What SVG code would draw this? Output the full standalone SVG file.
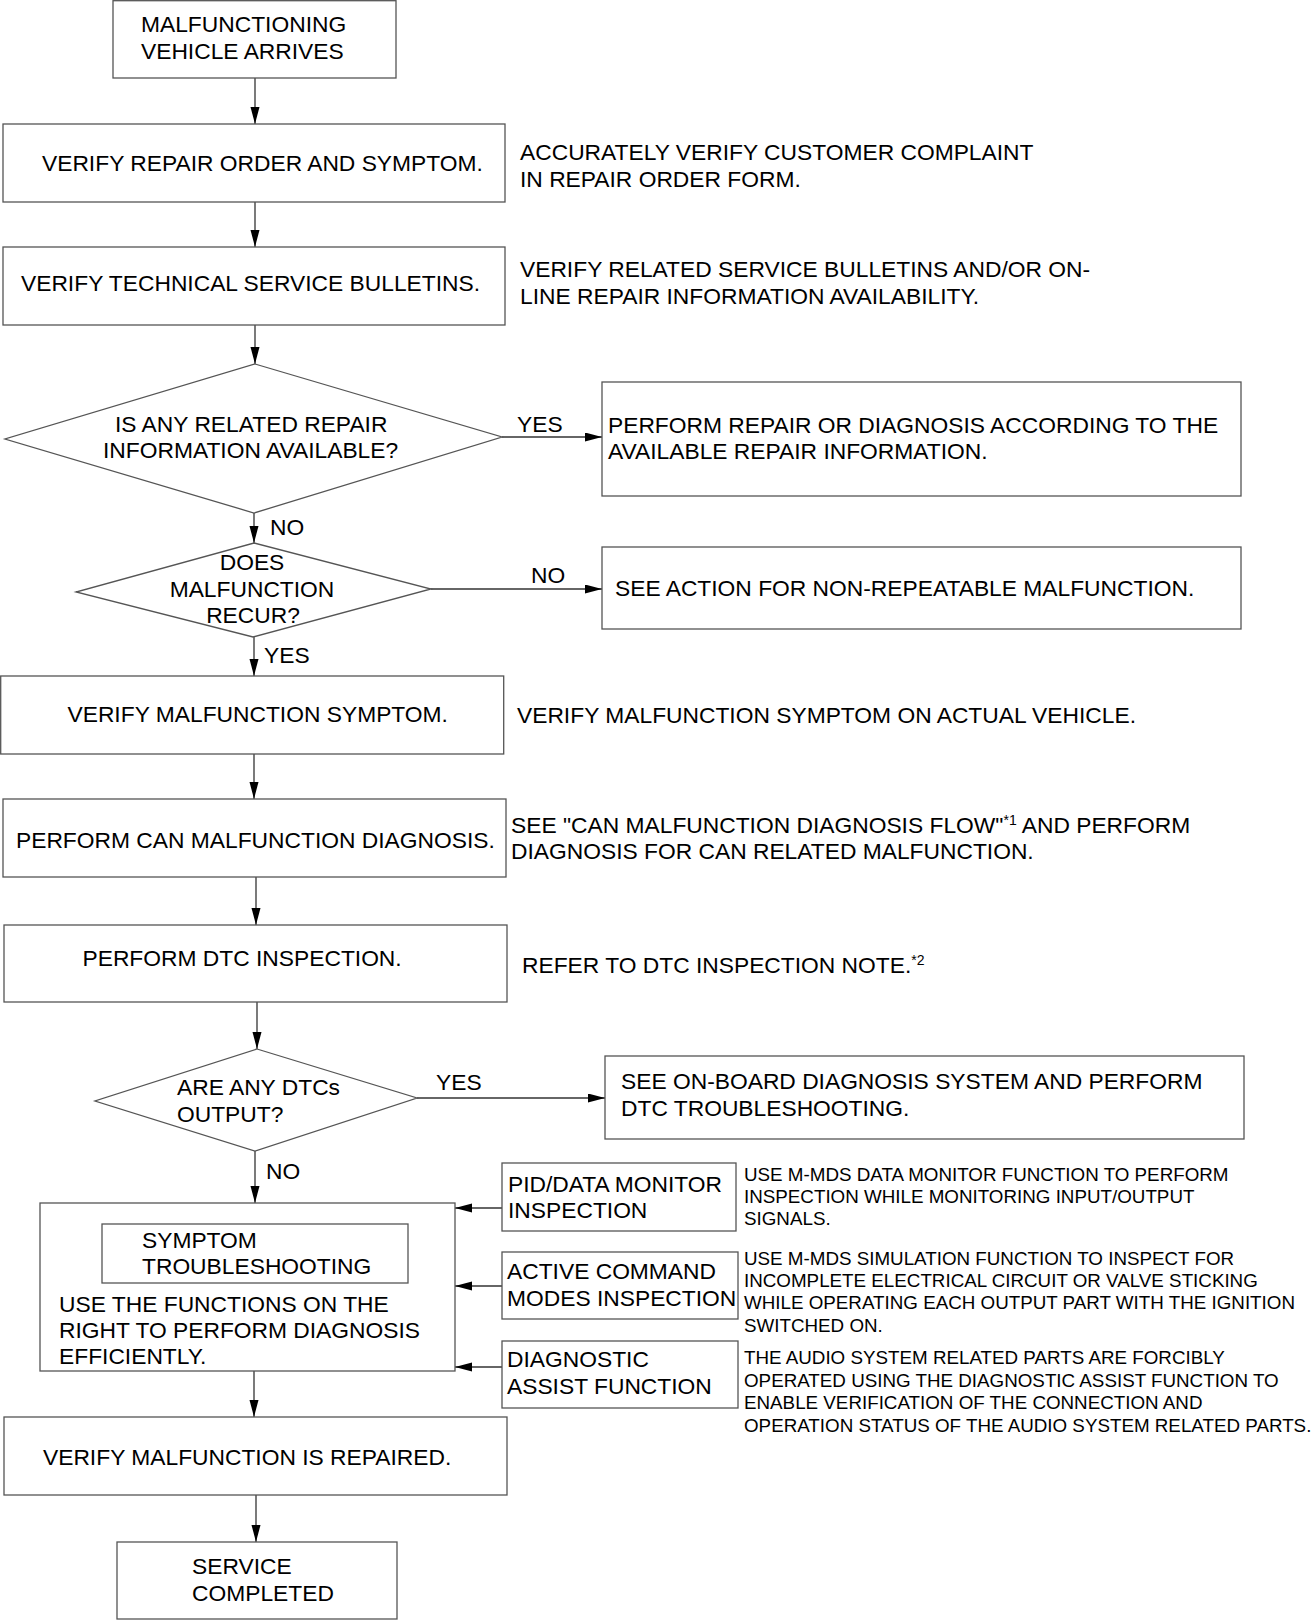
<svg xmlns="http://www.w3.org/2000/svg" width="1313" height="1620" viewBox="0 0 1313 1620">
<defs>
<style>
.box{fill:#fff;stroke:#555;stroke-width:1.3}
.ln{fill:none;stroke:#333;stroke-width:1.3;marker-end:url(#ah)}
text{font-family:"Liberation Sans",Arial,Helvetica,sans-serif;fill:#000}
.t{font-size:22.8px}
.s{font-size:18.8px}
.sup{font-size:14px}
</style>
<marker id="ah" markerUnits="userSpaceOnUse" markerWidth="18" markerHeight="10" refX="17" refY="4.5" orient="auto">
<path d="M0,0 L17,4.5 L0,9 z" fill="#000"/>
</marker>
</defs>
<rect width="1313" height="1620" fill="#fff"/>

<g id="connectors">
<line class="ln" x1="255" y1="78" x2="255" y2="124"/>
<line class="ln" x1="255" y1="202" x2="255" y2="247"/>
<line class="ln" x1="255" y1="325" x2="255" y2="364"/>
<line class="ln" x1="502" y1="437" x2="602" y2="437"/>
<line class="ln" x1="254" y1="513" x2="254" y2="543"/>
<line class="ln" x1="431" y1="589" x2="602" y2="589"/>
<line class="ln" x1="254" y1="637" x2="254" y2="676"/>
<line class="ln" x1="254" y1="754" x2="254" y2="799"/>
<line class="ln" x1="256" y1="877" x2="256" y2="925"/>
<line class="ln" x1="257" y1="1002" x2="257" y2="1049"/>
<line class="ln" x1="417" y1="1098" x2="605" y2="1098"/>
<line class="ln" x1="255" y1="1151" x2="255" y2="1203"/>
<line class="ln" x1="502" y1="1208" x2="455" y2="1208"/>
<line class="ln" x1="502" y1="1286" x2="455" y2="1286"/>
<line class="ln" x1="502" y1="1367" x2="455" y2="1367"/>
<line class="ln" x1="254" y1="1371" x2="254" y2="1417"/>
<line class="ln" x1="256" y1="1495" x2="256" y2="1542"/>
<text class="t" x="517" y="432">YES</text>
<text class="t" x="270" y="535">NO</text>
<text class="t" x="531" y="583">NO</text>
<text class="t" x="264" y="663">YES</text>
<text class="t" x="436" y="1090">YES</text>
<text class="t" x="266" y="1179">NO</text>
</g>

<g id="start">
<rect class="box" x="113" y="0.7" width="283" height="77.3"/>
<text class="t" x="141" y="32">MALFUNCTIONING</text>
<text class="t" x="141" y="59">VEHICLE ARRIVES</text>
</g>

<g id="verify-repair-order">
<rect class="box" x="3" y="124" width="502" height="78"/>
<text class="t" x="42" y="171">VERIFY REPAIR ORDER AND SYMPTOM.</text>
</g>
<g id="note-repair-order">
<text class="t" x="520" y="160">ACCURATELY VERIFY CUSTOMER COMPLAINT</text>
<text class="t" x="520" y="187">IN REPAIR ORDER FORM.</text>
</g>

<g id="verify-tsb">
<rect class="box" x="3" y="247" width="502" height="78"/>
<text class="t" x="21" y="291">VERIFY TECHNICAL SERVICE BULLETINS.</text>
</g>
<g id="note-tsb">
<text class="t" x="520" y="277">VERIFY RELATED SERVICE BULLETINS AND/OR ON-</text>
<text class="t" x="520" y="304">LINE REPAIR INFORMATION AVAILABILITY.</text>
</g>

<g id="decision-info">
<polygon class="box" points="255,364 502,437 254,513 5,439"/>
<text class="t" x="115" y="432">IS ANY RELATED REPAIR</text>
<text class="t" x="103" y="458">INFORMATION AVAILABLE?</text>
</g>

<g id="perform-repair">
<rect class="box" x="602" y="382" width="639" height="114"/>
<text class="t" x="608" y="433">PERFORM REPAIR OR DIAGNOSIS ACCORDING TO THE</text>
<text class="t" x="608" y="459">AVAILABLE REPAIR INFORMATION.</text>
</g>

<g id="decision-recur">
<polygon class="box" points="254,543 431,589 253,637 76,592"/>
<text class="t" x="252" y="570" text-anchor="middle">DOES</text>
<text class="t" x="252" y="597" text-anchor="middle">MALFUNCTION</text>
<text class="t" x="253" y="623" text-anchor="middle">RECUR?</text>
</g>

<g id="non-repeatable">
<rect class="box" x="602" y="547" width="639" height="82"/>
<text class="t" x="615" y="596">SEE ACTION FOR NON-REPEATABLE MALFUNCTION.</text>
</g>

<g id="verify-symptom">
<rect class="box" x="0.7" y="676" width="503" height="78"/>
<text class="t" x="67.5" y="722">VERIFY MALFUNCTION SYMPTOM.</text>
</g>
<g id="note-symptom">
<text class="t" x="517" y="723">VERIFY MALFUNCTION SYMPTOM ON ACTUAL VEHICLE.</text>
</g>

<g id="can-diagnosis">
<rect class="box" x="3" y="799" width="503" height="78"/>
<text class="t" x="16" y="848">PERFORM CAN MALFUNCTION DIAGNOSIS.</text>
</g>
<g id="note-can">
<text class="t" x="511" y="833">SEE "CAN MALFUNCTION DIAGNOSIS FLOW"<tspan class="sup" dy="-8">*1</tspan><tspan dy="8"> AND PERFORM</tspan></text>
<text class="t" x="511" y="859">DIAGNOSIS FOR CAN RELATED MALFUNCTION.</text>
</g>

<g id="dtc-inspection">
<rect class="box" x="4" y="925" width="503" height="77"/>
<text class="t" x="82.5" y="966">PERFORM DTC INSPECTION.</text>
</g>
<g id="note-dtc">
<text class="t" x="522" y="973">REFER TO DTC INSPECTION NOTE.<tspan class="sup" dy="-8">*2</tspan></text>
</g>

<g id="decision-dtc">
<polygon class="box" points="257,1049 417,1098 255,1151 95,1101"/>
<text class="t" x="177" y="1095">ARE ANY DTCs</text>
<text class="t" x="177" y="1122">OUTPUT?</text>
</g>

<g id="dtc-troubleshooting">
<rect class="box" x="605" y="1056" width="639" height="83"/>
<text class="t" x="621" y="1089">SEE ON-BOARD DIAGNOSIS SYSTEM AND PERFORM</text>
<text class="t" x="621" y="1116">DTC TROUBLESHOOTING.</text>
</g>

<g id="symptom-troubleshooting">
<rect class="box" x="40" y="1203" width="415" height="168"/>
<rect class="box" x="102" y="1224" width="306" height="59"/>
<text class="t" x="142" y="1248">SYMPTOM</text>
<text class="t" x="142" y="1274">TROUBLESHOOTING</text>
<text class="t" x="59" y="1312">USE THE FUNCTIONS ON THE</text>
<text class="t" x="59" y="1338">RIGHT TO PERFORM DIAGNOSIS</text>
<text class="t" x="59" y="1364">EFFICIENTLY.</text>
</g>

<g id="pid-monitor">
<rect class="box" x="502" y="1163" width="234" height="68"/>
<text class="t" x="508" y="1192">PID/DATA MONITOR</text>
<text class="t" x="508" y="1218">INSPECTION</text>
</g>
<g id="note-pid">
<text class="s" x="744" y="1181">USE M-MDS DATA MONITOR FUNCTION TO PERFORM</text>
<text class="s" x="744" y="1203">INSPECTION WHILE MONITORING INPUT/OUTPUT</text>
<text class="s" x="744" y="1225">SIGNALS.</text>
</g>

<g id="active-command">
<rect class="box" x="502" y="1252" width="236" height="67"/>
<text class="t" x="507" y="1279">ACTIVE COMMAND</text>
<text class="t" x="507" y="1306">MODES INSPECTION</text>
</g>
<g id="note-active">
<text class="s" x="744" y="1265">USE M-MDS SIMULATION FUNCTION TO INSPECT FOR</text>
<text class="s" x="744" y="1287">INCOMPLETE ELECTRICAL CIRCUIT OR VALVE STICKING</text>
<text class="s" x="744" y="1309">WHILE OPERATING EACH OUTPUT PART WITH THE IGNITION</text>
<text class="s" x="744" y="1332">SWITCHED ON.</text>
</g>

<g id="diagnostic-assist">
<rect class="box" x="502" y="1341" width="236" height="67"/>
<text class="t" x="507" y="1367">DIAGNOSTIC</text>
<text class="t" x="507" y="1394">ASSIST FUNCTION</text>
</g>
<g id="note-assist">
<text class="s" x="744" y="1364">THE AUDIO SYSTEM RELATED PARTS ARE FORCIBLY</text>
<text class="s" x="744" y="1387">OPERATED USING THE DIAGNOSTIC ASSIST FUNCTION TO</text>
<text class="s" x="744" y="1409">ENABLE VERIFICATION OF THE CONNECTION AND</text>
<text class="s" x="744" y="1432">OPERATION STATUS OF THE AUDIO SYSTEM RELATED PARTS.</text>
</g>

<g id="verify-repaired">
<rect class="box" x="4" y="1417" width="503" height="78"/>
<text class="t" x="43" y="1465">VERIFY MALFUNCTION IS REPAIRED.</text>
</g>

<g id="service-completed">
<rect class="box" x="117" y="1542" width="280" height="77"/>
<text class="t" x="192" y="1574">SERVICE</text>
<text class="t" x="192" y="1601">COMPLETED</text>
</g>
</svg>
